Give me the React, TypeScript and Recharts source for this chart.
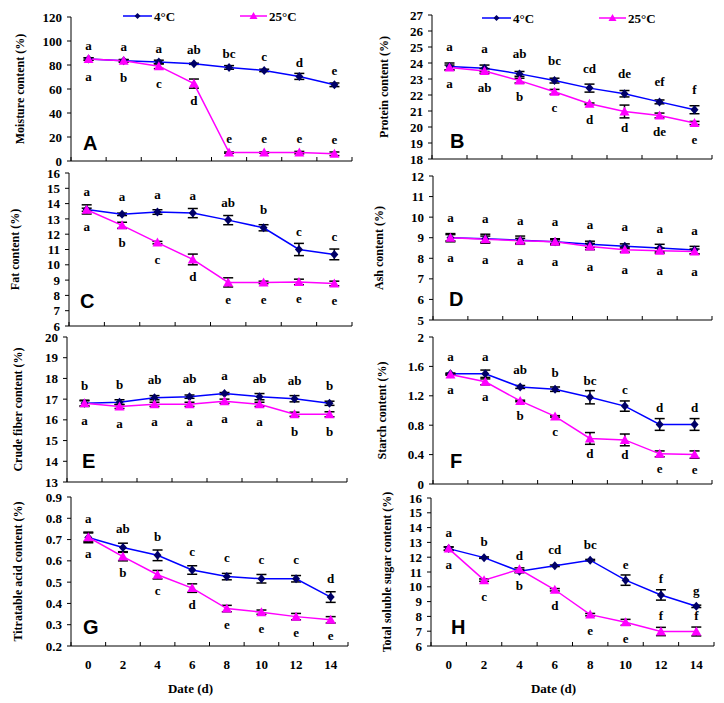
import React from 'react';
import { LineChart, Line, XAxis, YAxis, ErrorBar, LabelList, Legend } from 'recharts';

const days = [0, 2, 4, 6, 8, 10, 12, 14];
const xTicks = [-1, 0, 1, 2, 3, 4, 5, 6, 7, 8, 9, 10, 11, 12, 13, 14, 15];
const seriesNames = ['4°C', '25°C'];

// A — moisture
const moisture4 = [85, 83.5, 82.5, 81, 78, 75.5, 70.5, 63.5];
const moisture4Err = [1, 1, 1.5, 0.5, 1.5, 1, 2.5, 1.5];
const moisture25 = [85, 83.5, 79, 64.5, 7, 7, 7, 6];
const moisture25Err = [1, 1, 2, 3.8, 0.5, 0.5, 1, 1.5];
const moisture4Letters = ['a', 'a', 'a', 'ab', 'bc', 'c', 'd', 'e'];
const moisture25Letters = ['a', 'b', 'c', 'd', 'e', 'e', 'e', 'e'];
const moisture25Side = ['below', 'below', 'below', 'below', 'above', 'above', 'above', 'above'];
const moistureTicks = [0, 20, 40, 60, 80, 100, 120];

// B — protein
const protein4 = [23.78, 23.67, 23.32, 22.9, 22.43, 22.08, 21.57, 21.08];
const protein4Err = [0.22, 0.2, 0.15, 0.15, 0.25, 0.2, 0.12, 0.25];
const protein25 = [23.72, 23.5, 22.9, 22.2, 21.45, 20.97, 20.72, 20.25];
const protein25Err = [0.15, 0.15, 0.15, 0.15, 0.05, 0.4, 0.15, 0.1];
const protein4Letters = ['a', 'a', 'ab', 'bc', 'cd', 'de', 'ef', 'f'];
const protein25Letters = ['a', 'ab', 'b', 'c', 'd', 'd', 'de', 'e'];
const proteinTicks = [18, 19, 20, 21, 22, 23, 24, 25, 26, 27];

// C — fat
const fat4 = [13.62, 13.3, 13.45, 13.38, 12.92, 12.42, 11.0, 10.68];
const fat4Err = [0.3, 0.08, 0.15, 0.3, 0.3, 0.2, 0.4, 0.35];
const fat25 = [13.6, 12.58, 11.45, 10.35, 8.85, 8.85, 8.88, 8.78];
const fat25Err = [0.1, 0.2, 0.08, 0.35, 0.3, 0.08, 0.18, 0.15];
const fat4Letters = ['a', 'a', 'a', 'a', 'ab', 'b', 'c', 'c'];
const fat25Letters = ['a', 'b', 'c', 'd', 'e', 'e', 'e', 'e'];
const fatTicks = [6, 7, 8, 9, 10, 11, 12, 13, 14, 15, 16];

// D — ash
const ash4 = [9.0, 8.95, 8.88, 8.8, 8.68, 8.58, 8.5, 8.4];
const ash4Err = [0.2, 0.22, 0.2, 0.15, 0.15, 0.12, 0.18, 0.18];
const ash25 = [9.0, 8.93, 8.85, 8.8, 8.57, 8.42, 8.37, 8.33];
const ash25Err = [0.15, 0.15, 0.12, 0.1, 0.15, 0.12, 0.12, 0.12];
const ash4Letters = ['a', 'a', 'a', 'a', 'a', 'a', 'a', 'a'];
const ash25Letters = ['a', 'a', 'a', 'a', 'a', 'a', 'a', 'a'];
const ashTicks = [5, 6, 7, 8, 9, 10, 11, 12];

// E — crude fiber
const fiber4 = [16.8, 16.85, 17.07, 17.12, 17.27, 17.12, 17.02, 16.8];
const fiber4Err = [0.15, 0.12, 0.1, 0.08, 0.05, 0.15, 0.15, 0.1];
const fiber25 = [16.8, 16.65, 16.75, 16.75, 16.9, 16.75, 16.27, 16.27];
const fiber25Err = [0.12, 0.1, 0.1, 0.1, 0.1, 0.1, 0.1, 0.12];
const fiber4Letters = ['b', 'b', 'ab', 'ab', 'a', 'ab', 'ab', 'b'];
const fiber25Letters = ['a', 'a', 'a', 'a', 'a', 'a', 'b', 'b'];
const fiberTicks = [13, 14, 15, 16, 17, 18, 19, 20];

// F — starch
const starch4 = [1.5, 1.5, 1.32, 1.29, 1.18, 1.06, 0.81, 0.81];
const starch4Err = [0.01, 0.05, 0.02, 0.03, 0.09, 0.07, 0.08, 0.08];
const starch25 = [1.49, 1.39, 1.13, 0.92, 0.62, 0.6, 0.41, 0.4];
const starch25Err = [0.01, 0.04, 0.01, 0.01, 0.08, 0.08, 0.04, 0.05];
const starch4Letters = ['a', 'a', 'ab', 'b', 'bc', 'c', 'd', 'd'];
const starch25Letters = ['a', 'a', 'b', 'c', 'd', 'd', 'e', 'e'];
const starchTicks = [0, 0.4, 0.8, 1.2, 1.6, 2];

// G — titratable acid
const acid4 = [0.71, 0.663, 0.626, 0.557, 0.526, 0.516, 0.516, 0.43];
const acid4Err = [0.025, 0.02, 0.025, 0.02, 0.015, 0.02, 0.015, 0.025];
const acid25 = [0.711, 0.62, 0.535, 0.472, 0.376, 0.359, 0.338, 0.323];
const acid25Err = [0.02, 0.02, 0.02, 0.02, 0.015, 0.01, 0.015, 0.015];
const acid4Letters = ['a', 'ab', 'b', 'c', 'c', 'c', 'c', 'd'];
const acid25Letters = ['a', 'b', 'c', 'd', 'e', 'e', 'e', 'e'];
const acidTicks = [0.2, 0.3, 0.4, 0.5, 0.6, 0.7, 0.8, 0.9];

// H — total soluble sugar
const sugar4 = [12.58, 11.97, 11.05, 11.42, 11.8, 10.45, 9.45, 8.68];
const sugar4Err = [0.12, 0.05, 0.1, 0.05, 0.05, 0.35, 0.35, 0.08];
const sugar25 = [12.58, 10.45, 11.18, 9.8, 8.12, 7.6, 6.98, 6.98];
const sugar25Err = [0.1, 0.08, 0.1, 0.08, 0.08, 0.2, 0.28, 0.3];
const sugar4Letters = ['a', 'b', 'd', 'cd', 'bc', 'e', 'f', 'g'];
const sugar25Letters = ['a', 'c', 'b', 'd', 'e', 'e', 'f', 'f'];
const sugar25Side = ['below', 'below', 'below', 'below', 'below', 'below', 'above', 'above'];
const sugarTicks = [6, 7, 8, 9, 10, 11, 12, 13, 14, 15, 16];

const allAbove = days.map(() => 'above');
const allBelow = days.map(() => 'below');

const SERIF = "'Liberation Serif', 'Times New Roman', Times, serif";
const SANS = "'Liberation Sans', Arial, Helvetica, sans-serif";
const BLUE = '#0000FF';
const MAGENTA = '#FF00FF';
const NAVY = '#000066';

type PanelCfg = {
  tag: string;
  title: string;
  v4: number[]; e4: number[]; l4: string[]; s4: string[];
  v25: number[]; e25: number[]; l25: string[]; s25: string[];
  ticks: number[];
  box: { left: number; top: number; width: number; height: number };
  plot: { x1: number; x2: number; y1: number; y2: number };
  titleX: number;
  up: number; down: number;
  tagPos: { x: number; y: number };
  legend?: { x4: number; x25: number; y: number };
  dateAxis?: boolean;
};

const panels: PanelCfg[] = [
  {
    tag: 'A', title: 'Moisture content (%)',
    v4: moisture4, e4: moisture4Err, l4: moisture4Letters, s4: allAbove,
    v25: moisture25, e25: moisture25Err, l25: moisture25Letters, s25: moisture25Side,
    ticks: moistureTicks,
    box: { left: 0, top: 0, width: 362, height: 170 },
    plot: { x1: 71, x2: 352, y1: 17, y2: 161 },
    titleX: 20, up: 14, down: 17, tagPos: { x: 83, y: 152 },
    legend: { x4: 123, x25: 240, y: 16 },
  },
  {
    tag: 'B', title: 'Protein content (%)',
    v4: protein4, e4: protein4Err, l4: protein4Letters, s4: allAbove,
    v25: protein25, e25: protein25Err, l25: protein25Letters, s25: allBelow,
    ticks: proteinTicks,
    box: { left: 362, top: 0, width: 362, height: 170 },
    plot: { x1: 432, x2: 712, y1: 15, y2: 159 },
    titleX: 384, up: 20, down: 16, tagPos: { x: 450, y: 150 },
    legend: { x4: 482, x25: 599, y: 18 },
  },
  {
    tag: 'C', title: 'Fat content (%)',
    v4: fat4, e4: fat4Err, l4: fat4Letters, s4: allAbove,
    v25: fat25, e25: fat25Err, l25: fat25Letters, s25: allBelow,
    ticks: fatTicks,
    box: { left: 0, top: 163, width: 362, height: 172 },
    plot: { x1: 69, x2: 352, y1: 173, y2: 326 },
    titleX: 15, up: 18, down: 17, tagPos: { x: 80, y: 310 },
  },
  {
    tag: 'D', title: 'Ash content (%)',
    v4: ash4, e4: ash4Err, l4: ash4Letters, s4: allAbove,
    v25: ash25, e25: ash25Err, l25: ash25Letters, s25: allBelow,
    ticks: ashTicks,
    box: { left: 362, top: 166, width: 362, height: 165 },
    plot: { x1: 433, x2: 712, y1: 176, y2: 320 },
    titleX: 379, up: 20, down: 20, tagPos: { x: 449, y: 308 },
  },
  {
    tag: 'E', title: 'Crude fiber content (%)',
    v4: fiber4, e4: fiber4Err, l4: fiber4Letters, s4: allAbove,
    v25: fiber25, e25: fiber25Err, l25: fiber25Letters, s25: allBelow,
    ticks: fiberTicks,
    box: { left: 0, top: 329, width: 362, height: 163 },
    plot: { x1: 67, x2: 347, y1: 337, y2: 482 },
    titleX: 18, up: 18, down: 17, tagPos: { x: 82, y: 470 },
  },
  {
    tag: 'F', title: 'Starch content (%)',
    v4: starch4, e4: starch4Err, l4: starch4Letters, s4: allAbove,
    v25: starch25, e25: starch25Err, l25: starch25Letters, s25: allBelow,
    ticks: starchTicks,
    box: { left: 362, top: 329, width: 362, height: 163 },
    plot: { x1: 433, x2: 712, y1: 337, y2: 484 },
    titleX: 382, up: 17, down: 15, tagPos: { x: 450, y: 470 },
  },
  {
    tag: 'G', title: 'Titratable acid content (%)',
    v4: acid4, e4: acid4Err, l4: acid4Letters, s4: allAbove,
    v25: acid25, e25: acid25Err, l25: acid25Letters, s25: allBelow,
    ticks: acidTicks,
    box: { left: 0, top: 489, width: 362, height: 214 },
    plot: { x1: 71, x2: 348, y1: 497, y2: 646 },
    titleX: 18, up: 19, down: 16, tagPos: { x: 83, y: 636 }, dateAxis: true,
  },
  {
    tag: 'H', title: 'Total soluble sugar content (%)',
    v4: sugar4, e4: sugar4Err, l4: sugar4Letters, s4: allAbove,
    v25: sugar25, e25: sugar25Err, l25: sugar25Letters, s25: sugar25Side,
    ticks: sugarTicks,
    box: { left: 362, top: 489, width: 362, height: 214 },
    plot: { x1: 431, x2: 714, y1: 498, y2: 646 },
    titleX: 387, up: 16, down: 16, tagPos: { x: 451, y: 636 }, dateAxis: true,
  },
];

const YTitle = (props: any) => {
  const { px, py, text } = props;
  return (
    <text
      x={px}
      y={py}
      transform={`rotate(-90, ${px}, ${py})`}
      textAnchor="middle"
      dominantBaseline="central"
      fontFamily={SERIF}
      fontWeight="bold"
      fontSize={12}
      fill="#000"
    >
      {text}
    </text>
  );
};

const XTitle = (props: any) => {
  const { px, py, text } = props;
  return (
    <text x={px} y={py} textAnchor="middle" dominantBaseline="central" fontFamily={SERIF} fontWeight="bold" fontSize={13} fill="#000">
      {text}
    </text>
  );
};

const XTick = (props: any) => {
  const { x, y, payload, showLabels } = props;
  const v = payload ? payload.value : 0;
  if (Math.abs(v % 2) === 1) {
    return <line x1={x} x2={x} y1={y} y2={y - 4} stroke="#000" strokeWidth={1} />;
  }
  if (!showLabels) return <g />;
  return (
    <text x={x} y={y + 18} textAnchor="middle" dominantBaseline="central" fontFamily={SERIF} fontWeight="bold" fontSize={13} fill="#000">
      {v}
    </text>
  );
};

const diamondDot = (p: any) => {
  const { cx, cy, index } = p;
  if (cx == null || cy == null) return <g key={`dm-${index}`} />;
  return <path key={`dm-${index}`} d={`M${cx},${cy - 4.5}L${cx + 4},${cy}L${cx},${cy + 4.5}L${cx - 4},${cy}Z`} fill={NAVY} />;
};

const triangleDot = (p: any) => {
  const { cx, cy, index } = p;
  if (cx == null || cy == null) return <g key={`tr-${index}`} />;
  return <path key={`tr-${index}`} d={`M${cx},${cy - 5}L${cx + 5},${cy + 4}L${cx - 5},${cy + 4}Z`} fill={MAGENTA} />;
};

const makeLetter = (letters: string[], sides: string[], up: number, down: number) => (p: any) => {
  const vb = p.viewBox || {};
  const x = vb.x != null ? vb.x : p.x;
  const y = vb.y != null ? vb.y : p.y;
  const i = p.index;
  if (x == null || y == null || i == null) return <g />;
  const ty = sides[i] === 'above' ? y - up : y + down;
  return (
    <text x={x} y={ty} textAnchor="middle" dominantBaseline="central" fontFamily={SERIF} fontWeight="bold" fontSize={13} fill="#000">
      {letters[i]}
    </text>
  );
};

const LegendGraphic = ({ bx, mx, y }: { bx: number; mx: number; y: number }) => {
  return (
    <svg width={330} height={30} style={{ display: 'block', overflow: 'visible' }}>
      <line x1={bx} x2={bx + 29} y1={y} y2={y} stroke={BLUE} strokeWidth={1.5} />
      <path d={`M${bx + 14.5},${y - 3}L${bx + 17.5},${y}L${bx + 14.5},${y + 3}L${bx + 11.5},${y}Z`} fill={NAVY} />
      <text x={bx + 31} y={y} dominantBaseline="central" fontFamily={SERIF} fontWeight="bold" fontSize={13} fill="#000">{seriesNames[0]}</text>
      <line x1={mx} x2={mx + 27} y1={y} y2={y} stroke={MAGENTA} strokeWidth={1.5} />
      <path d={`M${mx + 13.5},${y - 4}L${mx + 17.5},${y + 3}L${mx + 9.5},${y + 3}Z`} fill={MAGENTA} />
      <text x={mx + 29} y={y} dominantBaseline="central" fontFamily={SERIF} fontWeight="bold" fontSize={13} fill="#000">{seriesNames[1]}</text>
    </svg>
  );
};

const Panel = ({ cfg }: { cfg: PanelCfg }) => {
  const { box, plot } = cfg;
  const yAxisWidth = 50;
  const xAxisHeight = 4;
  const margin = {
    top: plot.y1 - box.top,
    left: plot.x1 - box.left - yAxisWidth,
    right: box.left + box.width - plot.x2,
    bottom: box.top + box.height - plot.y2 - xAxisHeight,
  };
  const data = days.map((d, i) => ({
    day: d,
    v4: cfg.v4[i], e4: cfg.e4[i],
    v25: cfg.v25[i], e25: cfg.e25[i],
  }));
  const cy = (plot.y1 + plot.y2) / 2 - box.top;
  const cxPlot = (plot.x1 + plot.x2) / 2 - box.left;
  const domain = [cfg.ticks[0], cfg.ticks[cfg.ticks.length - 1]];
  const lg = cfg.legend;
  return (
    <div style={{ position: 'absolute', left: box.left, top: box.top, width: box.width, height: box.height }}>
      <LineChart width={box.width} height={box.height} data={data} margin={margin}>
        <XAxis
          dataKey="day"
          type="number"
          domain={[-1, 15]}
          ticks={xTicks}
          interval={0}
          height={xAxisHeight}
          tickLine={false}
          tickSize={0}
          tickMargin={0}
          axisLine={{ stroke: '#000', strokeWidth: 1 }}
          tick={<XTick showLabels={!!cfg.dateAxis} />}
          label={cfg.dateAxis ? <XTitle px={cxPlot - 19} py={plot.y2 - box.top + 42} text="Date (d)" /> : undefined}
        />
        <YAxis
          type="number"
          domain={domain}
          ticks={cfg.ticks}
          interval={0}
          width={yAxisWidth}
          tickSize={4}
          tickMargin={5}
          axisLine={{ stroke: '#000', strokeWidth: 1 }}
          tickLine={{ stroke: '#000', strokeWidth: 1 }}
          tick={{ fill: '#000', fontSize: 13, fontWeight: 'bold', fontFamily: SERIF }}
          label={<YTitle px={cfg.titleX - box.left} py={cy} text={cfg.title} />}
        />
        {lg && (
          <Legend
            layout="horizontal"
            verticalAlign="middle"
            align="center"
            wrapperStyle={{ left: 0, top: 0, width: 330, height: 30 }}
            content={() => <LegendGraphic bx={lg.x4 - box.left} mx={lg.x25 - box.left} y={lg.y - box.top} />}
          />
        )}
        <Line
          dataKey="v4"
          name={seriesNames[0]}
          stroke={BLUE}
          strokeWidth={1.5}
          dot={diamondDot}
          activeDot={false}
          isAnimationActive={false}
        >
          <ErrorBar dataKey="e4" width={5} stroke="#000" strokeWidth={1.5} direction="y" />
          <LabelList dataKey="v4" content={makeLetter(cfg.l4, cfg.s4, cfg.up, cfg.down)} />
        </Line>
        <Line
          dataKey="v25"
          name={seriesNames[1]}
          stroke={MAGENTA}
          strokeWidth={1.5}
          dot={triangleDot}
          activeDot={false}
          isAnimationActive={false}
        >
          <ErrorBar dataKey="e25" width={5} stroke="#000" strokeWidth={1.5} direction="y" />
          <LabelList dataKey="v25" content={makeLetter(cfg.l25, cfg.s25, cfg.up, cfg.down)} />
        </Line>
      </LineChart>
      <div
        style={{
          position: 'absolute',
          left: cfg.tagPos.x - box.left,
          top: cfg.tagPos.y - box.top - 19,
          fontFamily: SANS,
          fontWeight: 'bold',
          fontSize: 20,
          lineHeight: '20px',
          color: '#000',
          pointerEvents: 'none',
        }}
      >
        {cfg.tag}
      </div>
    </div>
  );
};

export default function App() {
  return (
    <div style={{ position: 'absolute', left: 0, top: 0, width: 724, height: 703, background: '#fff', overflow: 'hidden' }}>
      {panels.map((p) => (
        <Panel key={p.tag} cfg={p} />
      ))}
    </div>
  );
}
